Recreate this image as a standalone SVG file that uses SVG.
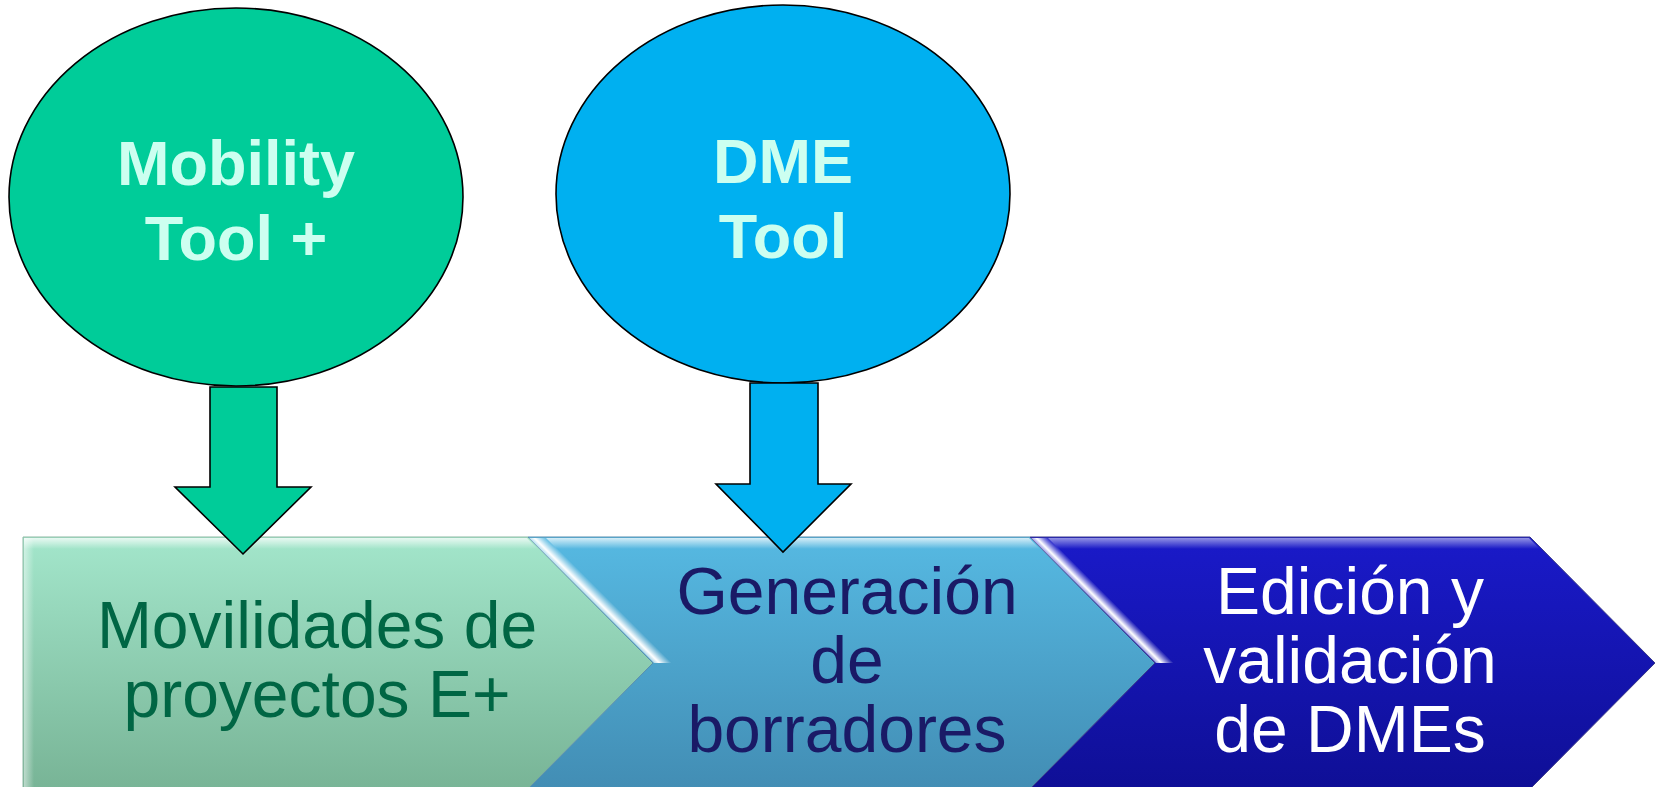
<svg xmlns="http://www.w3.org/2000/svg" width="1664" height="787" viewBox="0 0 1664 787">
<style>
.ell{stroke:#000;stroke-width:1.6}
.arr{stroke:#000;stroke-width:1.6;stroke-linejoin:miter}
.etxt{font-family:"Liberation Sans",Arial,sans-serif;font-weight:bold;font-size:63px;fill:#ccfff0;text-anchor:middle}
.ctxt{font-family:"Liberation Sans",Arial,sans-serif;font-size:66px;text-anchor:middle}
</style>
<defs>
<linearGradient id="gG" x1="0" y1="0" x2="0" y2="1">
<stop offset="0" stop-color="#a3e6cb"/><stop offset="1" stop-color="#78b496"/>
</linearGradient>
<linearGradient id="gB" x1="0" y1="0" x2="0" y2="1">
<stop offset="0" stop-color="#56b9e2"/><stop offset="1" stop-color="#428db4"/>
</linearGradient>
<linearGradient id="gD" x1="0" y1="0" x2="0" y2="1">
<stop offset="0" stop-color="#1a1ac9"/><stop offset="1" stop-color="#0f0f96"/>
</linearGradient>
<linearGradient id="topHi" x1="0" y1="0" x2="0" y2="1">
<stop offset="0" stop-color="#ffffff" stop-opacity="0.75"/><stop offset="1" stop-color="#ffffff" stop-opacity="0"/>
</linearGradient>
<linearGradient id="diagHiB" gradientUnits="userSpaceOnUse" x1="600" y1="609" x2="609" y2="600">
<stop offset="0" stop-color="#ffffff" stop-opacity="0.55"/><stop offset="0.3" stop-color="#ffffff" stop-opacity="1"/><stop offset="0.6" stop-color="#ffffff" stop-opacity="0.55"/><stop offset="1" stop-color="#ffffff" stop-opacity="0"/>
</linearGradient>
<linearGradient id="diagHiD" gradientUnits="userSpaceOnUse" x1="1102" y1="609" x2="1111" y2="600">
<stop offset="0" stop-color="#ffffff" stop-opacity="0.55"/><stop offset="0.3" stop-color="#ffffff" stop-opacity="1"/><stop offset="0.6" stop-color="#ffffff" stop-opacity="0.55"/><stop offset="1" stop-color="#ffffff" stop-opacity="0"/>
</linearGradient>
<linearGradient id="leftHi" x1="0" y1="0" x2="1" y2="0">
<stop offset="0" stop-color="#ffffff" stop-opacity="0.5"/><stop offset="1" stop-color="#ffffff" stop-opacity="0"/>
</linearGradient>
</defs>

<g id="node-mobility-tool">
<ellipse class="ell" cx="236" cy="197" rx="227" ry="189" fill="#00cc99"/>
<text class="etxt" x="236" y="185">Mobility</text>
<text class="etxt" x="236" y="260">Tool +</text>
</g>

<g id="node-dme-tool">
<ellipse class="ell" cx="783" cy="194" rx="227" ry="189" fill="#00b0f0"/>
<text class="etxt" x="783" y="183">DME</text>
<text class="etxt" x="783" y="258">Tool</text>
</g>

<g id="node-movilidades">
<polygon points="23,537 528,537 653,663 528,789 23,789" fill="url(#gG)" stroke="#8fb8a4" stroke-width="1"/>
<polygon points="24,538 527,538 538,549 24,549" fill="url(#topHi)"/>
<rect x="24" y="538" width="10" height="250" fill="url(#leftHi)"/>
<text class="ctxt" x="317" y="648" fill="#006644">Movilidades de</text>
<text class="ctxt" x="317" y="717" fill="#006644">proyectos E+</text>
</g>

<g id="node-generacion">
<polygon points="528,537 1030,537 1155,663 1030,789 528,789 653,663" fill="url(#gB)" stroke="#5a8fae" stroke-width="1"/>
<polygon points="546,538 1029,538 1040,549 557,549" fill="url(#topHi)"/>
<polygon points="529,538 547,538 672,663 654,663" fill="url(#diagHiB)"/>
<text class="ctxt" x="847" y="614" fill="#1a1a66">Generación</text>
<text class="ctxt" x="847" y="683" fill="#1a1a66">de</text>
<text class="ctxt" x="847" y="752" fill="#1a1a66">borradores</text>
</g>

<g id="node-edicion">
<polygon points="1030,537 1530,537 1655,663 1530,789 1030,789 1155,663" fill="url(#gD)" stroke="#3a3a8a" stroke-width="1"/>
<polygon points="1048,538 1529,538 1540,549 1059,549" fill="url(#topHi)" opacity="0.7"/>
<polygon points="1031,538 1049,538 1174,663 1156,663" fill="url(#diagHiD)"/>
<text class="ctxt" x="1350" y="614" fill="#ffffff">Edición y</text>
<text class="ctxt" x="1350" y="683" fill="#ffffff">validación</text>
<text class="ctxt" x="1350" y="752" fill="#ffffff">de DMEs</text>
</g>

<g id="connectors">
<polygon class="arr" fill="#00cc99" points="210,387 277,387 277,487 311,487 243,554 175,487 210,487"/>
<polygon class="arr" fill="#00b0f0" points="750,383 818,383 818,484 851,484 783,552 716,484 750,484"/>
</g>
</svg>
